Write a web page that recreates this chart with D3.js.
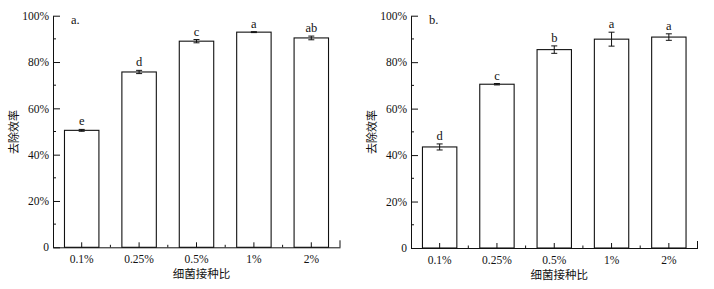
<!DOCTYPE html>
<html><head><meta charset="utf-8">
<script src="https://cdn.jsdelivr.net/npm/d3@7"></script>
<style>
body{margin:0;background:#fff;}
text{fill:#111;}
</style></head>
<body><svg id="c" width="714" height="289"></svg>
<script>
const categories = ["0.1%","0.25%","0.5%","1%","2%"];
const valuesA = [50.5, 75.7, 89.0, 92.9, 90.4];
const errorsA = [0.4, 0.7, 0.7, 0.2, 0.8];
const lettersA = ["e","d","c","a","ab"];
const valuesB = [43.5, 70.5, 85.4, 89.9, 90.8];
const errorsB = [1.3, 0.3, 1.6, 3.0, 1.4];
const lettersB = ["d","c","b","a","a"];
const yTicks = [0,20,40,60,80,100];
const yMinor = [10,30,50,70,90];
const yTickLabels = ["0","20%","40%","60%","80%","100%"];
const panelLabels = ["a.","b."];
const xTitle = "细菌接种比";
const yTitle = "去除效率";

const SERIF = '"Liberation Serif","Times New Roman",serif';
const CJK = '"Noto Sans CJK SC",sans-serif';
const svg = d3.select("#c");

function panel(cfg){
  const {x0,x1,yTop,yBot,values,errors,letters,tag,ylabX} = cfg;
  const g = svg.append("g");
  const x = d3.scaleBand().domain(categories).range([x0,x1]).paddingInner(0.4).paddingOuter(0.2);
  const y = d3.scaleLinear().domain([0,100]).range([yBot,yTop]);
  g.selectAll("rect.bar").data(values).join("rect")
    .attr("x",(d,i)=>x(categories[i])).attr("width",x.bandwidth())
    .attr("y",d=>y(d)).attr("height",d=>yBot-y(d))
    .attr("fill","#fff").attr("stroke","#111").attr("stroke-width",1.1);
  const cap = 3;
  values.forEach((v,i)=>{
    const cx = x(categories[i]) + x.bandwidth()/2;
    const e = errors[i];
    g.append("line").attr("x1",cx).attr("x2",cx).attr("y1",y(v-e)).attr("y2",y(v+e)).attr("stroke","#111");
    g.append("line").attr("x1",cx-cap).attr("x2",cx+cap).attr("y1",y(v-e)).attr("y2",y(v-e)).attr("stroke","#111");
    g.append("line").attr("x1",cx-cap).attr("x2",cx+cap).attr("y1",y(v+e)).attr("y2",y(v+e)).attr("stroke","#111");
    g.append("text").attr("x",cx).attr("y",y(v+e)-4).attr("text-anchor","middle")
      .style("font-family",SERIF).style("font-size","12.5px").text(letters[i]);
  });
  const ya = g.append("g").attr("transform",`translate(${x0},0)`)
    .call(d3.axisLeft(y).tickValues(yTicks).tickFormat((d,i)=>yTickLabels[i]).tickSizeInner(-7).tickSizeOuter(0).tickPadding(4));
  ya.selectAll("text").style("font-family",SERIF).style("font-size","11.5px");
  ya.selectAll("line,path").attr("stroke","#111");
  yMinor.forEach(m=>{
    g.append("line").attr("x1",x0).attr("x2",x0+3).attr("y1",y(m)).attr("y2",y(m)).attr("stroke","#111");
  });
  const xa = g.append("g").attr("transform",`translate(0,${yBot})`)
    .call(d3.axisBottom(x).tickSizeInner(-5).tickSizeOuter(0).tickPadding(8));
  xa.selectAll("text").style("font-family",SERIF).style("font-size","11.5px");
  xa.selectAll("line,path").attr("stroke","#111");
  for(let i=1;i<categories.length;i++){
    const bx = x(categories[i]) - x.step()*x.paddingInner()/2;
    g.append("line").attr("x1",bx).attr("x2",bx).attr("y1",yBot).attr("y2",yBot-2.5).attr("stroke","#111");
  }
  g.append("line").attr("x1",x1).attr("x2",x1).attr("y1",yBot).attr("y2",yBot-7).attr("stroke","#111");
  g.append("text").attr("x",x0+18).attr("y",yTop+8).style("font-family",SERIF).style("font-size","12.5px").text(tag);
  g.append("text").attr("x",(x0+x1)/2+5).attr("y",yBot+31).attr("text-anchor","middle")
    .style("font-family",CJK).style("font-size","11.5px").text(xTitle);
  g.append("text").attr("transform",`translate(${ylabX},${132}) rotate(-90)`).attr("text-anchor","middle")
    .attr("dy","0.35em").style("font-family",CJK).style("font-size","11px").text(yTitle);
}

panel({x0:53,x1:340,yTop:15.7,yBot:247.3,values:valuesA,errors:errorsA,letters:lettersA,tag:panelLabels[0],ylabX:14});
panel({x0:411,x1:697.5,yTop:15.7,yBot:248,values:valuesB,errors:errorsB,letters:lettersB,tag:panelLabels[1],ylabX:372});
</script></body></html>
